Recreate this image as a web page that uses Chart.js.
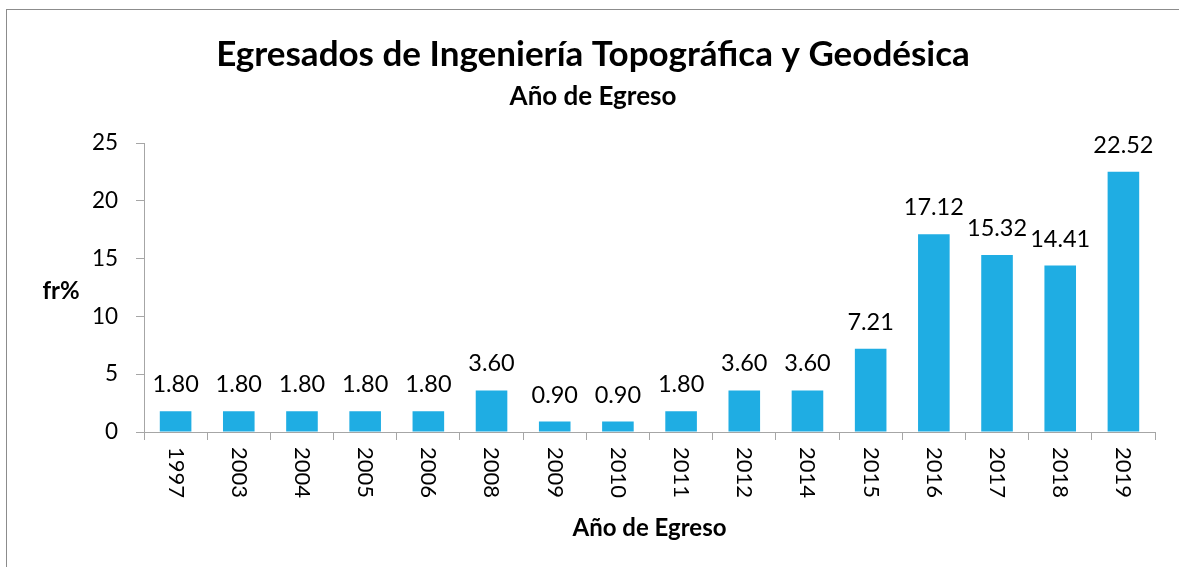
<!DOCTYPE html>
<html lang="es">
<head>
<meta charset="utf-8">
<title>Egresados de Ingeniería Topográfica y Geodésica</title>
<script src="https://cdn.jsdelivr.net/npm/chart.js"></script>
<style>
  body { margin: 0; background: #ffffff; }
  #myChart { display: block; }
</style>
</head>
<body>
<canvas id="myChart" width="1179" height="567"></canvas>
<script>
const ctx = document.getElementById("myChart");

// datos del grafico
const anios = ["1997", "2003", "2004", "2005", "2006", "2008", "2009", "2010", "2011", "2012", "2014", "2015", "2016", "2017", "2018", "2019"];
const porcentajes = [1.80, 1.80, 1.80, 1.80, 1.80, 3.60, 0.90, 0.90, 1.80, 3.60, 3.60, 7.21, 17.12, 15.32, 14.41, 22.52];
const ticksY = [0, 5, 10, 15, 20, 25];

const fuente = "Lato, 'Open Sans', sans-serif";
const colorBarra = "#1FADE3";
const colorEje = "#a6a6a6";

// plugin para marco, etiquetas de datos y textos de ejes
const dibujosExtra = {
  id: "dibujosExtra",
  beforeDraw: (chart) => {
    const c = chart.ctx;
    c.save();
    c.fillStyle = "#ffffff";
    c.fillRect(0, 0, chart.width, chart.height);
    c.strokeStyle = "#8c8c8c";
    c.lineWidth = 1;
    c.strokeRect(6.5, 9.5, chart.width + 10, chart.height + 10);
    c.restore();
  },
  afterDraw: (chart) => {
    const c = chart.ctx;
    const escalaX = chart.scales.x;
    const area = chart.chartArea;
    const barras = chart.getDatasetMeta(0).data;

    c.save();
    c.fillStyle = "#000000";

    // valores sobre las barras
    c.font = "23.5px " + fuente;
    c.textAlign = "center";
    c.textBaseline = "alphabetic";
    barras.forEach((barra, i) => {
      c.fillText(porcentajes[i].toFixed(2), barra.x, barra.y - 19);
    });

    // etiquetas del eje x giradas
    c.font = "22px " + fuente;
    anios.forEach((anio, i) => {
      const x = escalaX.getPixelForTick(i);
      c.save();
      c.translate(x, area.bottom + 15);
      c.rotate(Math.PI / 2);
      c.textAlign = "left";
      c.textBaseline = "middle";
      c.fillText(anio, 0, 0);
      c.restore();
    });

    // titulo eje x
    c.font = "bold 24px " + fuente;
    c.textAlign = "center";
    c.textBaseline = "middle";
    c.fillText("Año de Egreso", (area.left + area.right) / 2, 528);

    // titulo eje y
    c.fillText("fr%", 61, 291);
    c.restore();
  },
};

new Chart(ctx, {
  type: "bar",
  data: {
    labels: anios,
    datasets: [
      {
        label: "fr%",
        data: porcentajes,
        backgroundColor: colorBarra,
        borderWidth: 0,
        barPercentage: 0.5,
        categoryPercentage: 1,
      },
    ],
  },
  options: {
    responsive: false,
    animation: false,
    devicePixelRatio: 1,
    layout: {
      padding: { left: 31, right: 24, top: 0, bottom: 0 },
    },
    plugins: {
      legend: { display: false },
      tooltip: { enabled: false },
      title: {
        display: true,
        text: "Egresados de Ingeniería Topográfica y Geodésica",
        color: "#000000",
        font: { family: fuente, size: 35, weight: "bold", lineHeight: 1.2 },
        padding: { top: 34, bottom: 0 },
      },
      subtitle: {
        display: true,
        text: "Año de Egreso",
        color: "#000000",
        font: { family: fuente, size: 26, weight: "bold", lineHeight: 1.2 },
        padding: { top: 5, bottom: 31 },
      },
    },
    scales: {
      x: {
        afterFit: (escala) => {
          escala.height = 135;
        },
        grid: {
          display: true,
          drawOnChartArea: false,
          drawTicks: true,
          tickLength: 8,
          color: colorEje,
          offset: true,
        },
        border: { display: true, color: colorEje, width: 1 },
        ticks: { display: false },
      },
      y: {
        min: 0,
        max: 25,
        afterFit: (escala) => {
          escala.width = 113;
        },
        afterBuildTicks: (escala) => {
          escala.ticks = ticksY.map((v) => ({ value: v }));
        },
        grid: {
          display: true,
          drawOnChartArea: false,
          drawTicks: true,
          tickLength: 8,
          color: colorEje,
        },
        border: { display: true, color: colorEje, width: 1 },
        ticks: {
          color: "#000000",
          padding: 18,
          font: { family: fuente, size: 22.5 },
        },
      },
    },
  },
  plugins: [dibujosExtra],
});
</script>
</body>
</html>
